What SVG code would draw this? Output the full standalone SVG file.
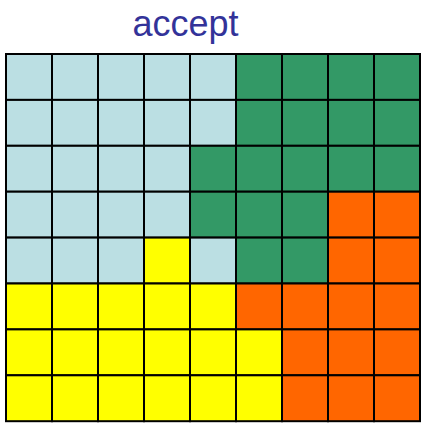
<svg xmlns="http://www.w3.org/2000/svg" width="424" height="426" viewBox="0 0 424 426">
<style>
.c{stroke:#000;stroke-width:2}
.b{fill:#BBDFE3}.g{fill:#339966}.o{fill:#FF6600}.y{fill:#FFFF00}
.t{font-family:"Liberation Sans",Arial,sans-serif;font-size:36px;fill:#333399}
</style>
<rect width="424" height="426" fill="#fff"/>
<text class="t" x="185.5" y="36" text-anchor="middle">accept</text>
<g id="grid">
<g id="r0">
<rect class="c b" x="6" y="54" width="46" height="45.9"/><rect class="c b" x="52" y="54" width="46" height="45.9"/><rect class="c b" x="98" y="54" width="46" height="45.9"/><rect class="c b" x="144" y="54" width="46" height="45.9"/><rect class="c b" x="190" y="54" width="46" height="45.9"/><rect class="c g" x="236" y="54" width="46" height="45.9"/><rect class="c g" x="282" y="54" width="46" height="45.9"/><rect class="c g" x="328" y="54" width="46" height="45.9"/><rect class="c g" x="374" y="54" width="46" height="45.9"/>
</g>
<g id="r1">
<rect class="c b" x="6" y="99.9" width="46" height="45.9"/><rect class="c b" x="52" y="99.9" width="46" height="45.9"/><rect class="c b" x="98" y="99.9" width="46" height="45.9"/><rect class="c b" x="144" y="99.9" width="46" height="45.9"/><rect class="c b" x="190" y="99.9" width="46" height="45.9"/><rect class="c g" x="236" y="99.9" width="46" height="45.9"/><rect class="c g" x="282" y="99.9" width="46" height="45.9"/><rect class="c g" x="328" y="99.9" width="46" height="45.9"/><rect class="c g" x="374" y="99.9" width="46" height="45.9"/>
</g>
<g id="r2">
<rect class="c b" x="6" y="145.8" width="46" height="45.9"/><rect class="c b" x="52" y="145.8" width="46" height="45.9"/><rect class="c b" x="98" y="145.8" width="46" height="45.9"/><rect class="c b" x="144" y="145.8" width="46" height="45.9"/><rect class="c g" x="190" y="145.8" width="46" height="45.9"/><rect class="c g" x="236" y="145.8" width="46" height="45.9"/><rect class="c g" x="282" y="145.8" width="46" height="45.9"/><rect class="c g" x="328" y="145.8" width="46" height="45.9"/><rect class="c g" x="374" y="145.8" width="46" height="45.9"/>
</g>
<g id="r3">
<rect class="c b" x="6" y="191.7" width="46" height="45.9"/><rect class="c b" x="52" y="191.7" width="46" height="45.9"/><rect class="c b" x="98" y="191.7" width="46" height="45.9"/><rect class="c b" x="144" y="191.7" width="46" height="45.9"/><rect class="c g" x="190" y="191.7" width="46" height="45.9"/><rect class="c g" x="236" y="191.7" width="46" height="45.9"/><rect class="c g" x="282" y="191.7" width="46" height="45.9"/><rect class="c o" x="328" y="191.7" width="46" height="45.9"/><rect class="c o" x="374" y="191.7" width="46" height="45.9"/>
</g>
<g id="r4">
<rect class="c b" x="6" y="237.6" width="46" height="45.9"/><rect class="c b" x="52" y="237.6" width="46" height="45.9"/><rect class="c b" x="98" y="237.6" width="46" height="45.9"/><rect class="c y" x="144" y="237.6" width="46" height="45.9"/><rect class="c b" x="190" y="237.6" width="46" height="45.9"/><rect class="c g" x="236" y="237.6" width="46" height="45.9"/><rect class="c g" x="282" y="237.6" width="46" height="45.9"/><rect class="c o" x="328" y="237.6" width="46" height="45.9"/><rect class="c o" x="374" y="237.6" width="46" height="45.9"/>
</g>
<g id="r5">
<rect class="c y" x="6" y="283.5" width="46" height="45.9"/><rect class="c y" x="52" y="283.5" width="46" height="45.9"/><rect class="c y" x="98" y="283.5" width="46" height="45.9"/><rect class="c y" x="144" y="283.5" width="46" height="45.9"/><rect class="c y" x="190" y="283.5" width="46" height="45.9"/><rect class="c o" x="236" y="283.5" width="46" height="45.9"/><rect class="c o" x="282" y="283.5" width="46" height="45.9"/><rect class="c o" x="328" y="283.5" width="46" height="45.9"/><rect class="c o" x="374" y="283.5" width="46" height="45.9"/>
</g>
<g id="r6">
<rect class="c y" x="6" y="329.4" width="46" height="45.9"/><rect class="c y" x="52" y="329.4" width="46" height="45.9"/><rect class="c y" x="98" y="329.4" width="46" height="45.9"/><rect class="c y" x="144" y="329.4" width="46" height="45.9"/><rect class="c y" x="190" y="329.4" width="46" height="45.9"/><rect class="c y" x="236" y="329.4" width="46" height="45.9"/><rect class="c o" x="282" y="329.4" width="46" height="45.9"/><rect class="c o" x="328" y="329.4" width="46" height="45.9"/><rect class="c o" x="374" y="329.4" width="46" height="45.9"/>
</g>
<g id="r7">
<rect class="c y" x="6" y="375.3" width="46" height="45.9"/><rect class="c y" x="52" y="375.3" width="46" height="45.9"/><rect class="c y" x="98" y="375.3" width="46" height="45.9"/><rect class="c y" x="144" y="375.3" width="46" height="45.9"/><rect class="c y" x="190" y="375.3" width="46" height="45.9"/><rect class="c y" x="236" y="375.3" width="46" height="45.9"/><rect class="c o" x="282" y="375.3" width="46" height="45.9"/><rect class="c o" x="328" y="375.3" width="46" height="45.9"/><rect class="c o" x="374" y="375.3" width="46" height="45.9"/>
</g>
</g>
</svg>
